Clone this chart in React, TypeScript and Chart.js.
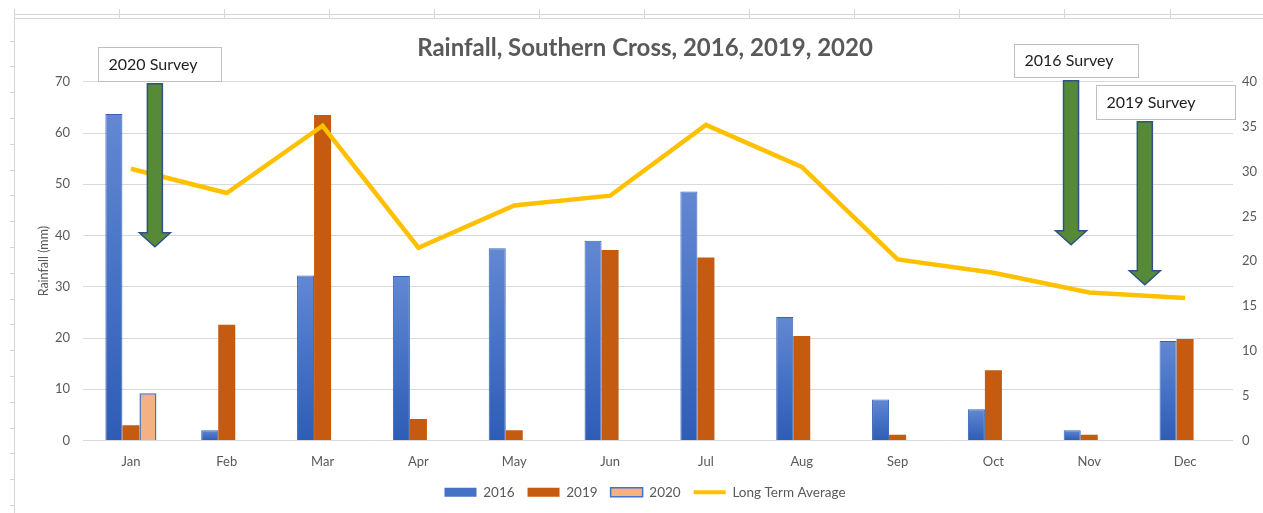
import React, { useEffect, useRef } from 'react';
import { Chart, registerables } from 'chart.js';

Chart.register(...registerables);

// ---- data ----
const months = ['Jan', 'Feb', 'Mar', 'Apr', 'May', 'Jun', 'Jul', 'Aug', 'Sep', 'Oct', 'Nov', 'Dec'];
const rain2016 = [63.7, 2.0, 32.2, 32.1, 37.5, 39.0, 48.6, 24.1, 8.0, 6.1, 2.0, 19.4];
const rain2019 = [3.0, 22.6, 63.5, 4.2, 2.0, 37.2, 35.7, 20.4, 1.1, 13.7, 1.1, 19.8];
const rain2020 = [9.2, null, null, null, null, null, null, null, null, null, null, null];
const longTermAverage = [30.3, 27.6, 35.1, 21.5, 26.2, 27.3, 35.2, 30.5, 20.2, 18.7, 16.5, 15.9];
const leftTicks = [0, 10, 20, 30, 40, 50, 60, 70];
const rightTicks = [0, 5, 10, 15, 20, 25, 30, 35, 40];

// survey annotations (category position, left-axis mm values)
const surveyLabels = ['2020 Survey', '2016 Survey', '2019 Survey'];
const surveyMonthPos = [0.25, 9.81, 10.58];
const surveyArrowTop = [69.6, 70.2, 62.2];
const surveyArrowTip = [37.8, 38.2, 30.4];

// box layout relative to arrow top/centre (px)
const boxLayout = [
  { dx: -57, w: 123, dy: -37, h: 34 },
  { dx: -57.5, w: 124, dy: -37, h: 33 },
  { dx: -49, w: 139, dy: -37, h: 34 },
];

const FONT = 'Lato, "Open Sans", sans-serif';
const GREY = '#595959';

const frameColor = '#d6d6d6';

const framePlugin = {
  id: 'sheetFrame',
  beforeDraw(chart: any) {
    const c = chart.ctx as CanvasRenderingContext2D;
    c.save();
    c.fillStyle = '#ffffff';
    c.fillRect(0, 0, chart.width, chart.height);
    c.strokeStyle = frameColor;
    c.lineWidth = 1;
    const line = (x1: number, y1: number, x2: number, y2: number) => {
      c.beginPath();
      c.moveTo(x1, y1);
      c.lineTo(x2, y2);
      c.stroke();
    };
    line(14, 14.5, chart.width, 14.5);
    line(14, 18.5, chart.width, 18.5);
    for (let x = 118.5; x < chart.width; x += 105.1) line(Math.round(x) + 0.5, 9, Math.round(x) + 0.5, 19);
    line(14.5, 9, 14.5, chart.height);
    for (let y = 40.5; y < chart.height; y += 25.8) line(10, Math.round(y) + 0.5, 14, Math.round(y) + 0.5);
    c.restore();
  },
};

const surveyPlugin = {
  id: 'surveys',
  afterDraw(chart: any) {
    const c = chart.ctx as CanvasRenderingContext2D;
    const xs = chart.scales.x;
    const ys = chart.scales.y;
    c.save();
    surveyLabels.forEach((label, i) => {
      const cx = xs.getPixelForValue(surveyMonthPos[i]);
      const yTop = ys.getPixelForValue(surveyArrowTop[i]);
      const yTip = ys.getPixelForValue(surveyArrowTip[i]);
      const sw = 7.5, hw = 15.5, hh = 14;
      c.beginPath();
      c.moveTo(cx - sw, yTop);
      c.lineTo(cx + sw, yTop);
      c.lineTo(cx + sw, yTip - hh);
      c.lineTo(cx + hw, yTip - hh);
      c.lineTo(cx, yTip);
      c.lineTo(cx - hw, yTip - hh);
      c.lineTo(cx - sw, yTip - hh);
      c.closePath();
      c.fillStyle = '#568a38';
      c.fill();
      c.strokeStyle = '#2f5286';
      c.lineWidth = 1.5;
      c.stroke();

      const b = boxLayout[i];
      const bx = Math.round(cx + b.dx) + 0.5;
      const by = Math.round(yTop + b.dy) + 0.5;
      c.fillStyle = '#ffffff';
      c.fillRect(bx, by, b.w, b.h);
      c.strokeStyle = '#bfbfbf';
      c.lineWidth = 1;
      c.strokeRect(bx, by, b.w, b.h);
      c.fillStyle = '#1e1e1e';
      c.font = `16px ${FONT}`;
      c.textAlign = 'left';
      c.textBaseline = 'middle';
      c.fillText(label, bx + 10, by + b.h / 2);
    });
    c.restore();
  },
};

function blueGradient(ctx: any) {
  const chart = ctx.chart;
  const y = chart.scales && chart.scales.y;
  if (!chart.chartArea || !y || ctx.type !== 'data' || ctx.raw == null) return '#4472c4';
  const top = y.getPixelForValue(ctx.raw);
  const base = y.getPixelForValue(0);
  if (!isFinite(top) || !isFinite(base) || Math.abs(base - top) < 1) return '#4472c4';
  const g = chart.ctx.createLinearGradient(0, top, 0, base);
  g.addColorStop(0, '#6388d2');
  g.addColorStop(0.5, '#4672c6');
  g.addColorStop(1, '#2f5cb5');
  return g;
}

const legendFill = ['#4472c4', '#c55a11', '#f4b183', '#ffc000'];
const legendStroke = ['#4472c4', '#c55a11', '#4472c4', '#ffc000'];
const legendWidth = [0, 0, 1.5, 4];

export default function App() {
  const ref = useRef<HTMLCanvasElement>(null);
  useEffect(() => {
    document.body.style.margin = '0';
    const canvas = ref.current!;
    const chart = new Chart(canvas, {
      type: 'bar',
      data: {
        labels: months,
        datasets: [
          {
            label: '2016',
            data: rain2016,
            backgroundColor: blueGradient as any,
            borderColor: '#3764b4',
            borderWidth: 1,
            yAxisID: 'y',
            order: 1,
          },
          {
            label: '2019',
            data: rain2019,
            backgroundColor: '#c55a11',
            borderWidth: 0,
            yAxisID: 'y',
            order: 1,
          },
          {
            label: '2020',
            data: rain2020 as any,
            backgroundColor: '#f4b183',
            borderColor: '#4472c4',
            borderWidth: 1.5,
            yAxisID: 'y',
            order: 1,
          },
          {
            type: 'line' as any,
            label: 'Long Term Average',
            data: longTermAverage,
            borderColor: '#ffc000',
            backgroundColor: '#ffc000',
            borderWidth: 4.5,
            pointRadius: 0,
            tension: 0,
            yAxisID: 'y1',
            order: 0,
          } as any,
        ],
      },
      options: {
        responsive: false,
        animation: false,
        layout: { padding: { left: 0, right: 0, top: 0, bottom: 4 } },
        datasets: {
          bar: { barPercentage: 1, categoryPercentage: 0.533 },
        } as any,
        plugins: {
          title: {
            display: true,
            text: 'Rainfall, Southern Cross, 2016, 2019, 2020',
            color: GREY,
            font: { family: FONT, size: 24, weight: 'bold' },
            padding: { top: 34, bottom: 19 },
          },
          legend: {
            position: 'bottom',
            labels: {
              color: GREY,
              font: { family: FONT, size: 13.5 },
              usePointStyle: true,
              pointStyleWidth: 32,
              boxHeight: 9,
              padding: 13,
              generateLabels: (ch: any) => {
                const items = Chart.defaults.plugins.legend.labels.generateLabels(ch);
                items.sort((a: any, b: any) => a.datasetIndex - b.datasetIndex);
                return items.map((it: any) => ({
                  ...it,
                  fillStyle: legendFill[it.datasetIndex],
                  strokeStyle: legendStroke[it.datasetIndex],
                  lineWidth: legendWidth[it.datasetIndex],
                  pointStyle: it.datasetIndex === 3 ? 'line' : 'rect',
                  fontColor: GREY,
                }));
              },
            },
          },
          tooltip: { enabled: false },
        },
        scales: {
          x: {
            type: 'category',
            grid: { display: false },
            border: { display: false },
            ticks: { color: GREY, font: { family: FONT, size: 13 }, padding: 6, maxRotation: 0 },
            afterFit: (s: any) => { s.height = 32; },
          },
          y: {
            position: 'left',
            min: 0,
            max: 70,
            afterBuildTicks: (s: any) => { s.ticks = leftTicks.map((v) => ({ value: v })); },
            grid: { color: '#d9d9d9', drawTicks: false, lineWidth: 1 },
            border: { display: false },
            ticks: { color: GREY, font: { family: FONT, size: 13 }, padding: 13 },
            title: {
              display: true,
              text: 'Rainfall (mm)',
              color: GREY,
              font: { family: FONT, size: 12.5 },
              padding: { top: 36, bottom: 0 },
            },
            afterFit: (s: any) => { s.width = 83; },
          },
          y1: {
            position: 'right',
            min: 0,
            max: 40,
            afterBuildTicks: (s: any) => { s.ticks = rightTicks.map((v) => ({ value: v })); },
            grid: { display: false, drawTicks: false },
            border: { display: false },
            ticks: { color: GREY, font: { family: FONT, size: 13 }, padding: 9 },
            afterFit: (s: any) => { s.width = 1290 - 1233; },
          },
        },
      },
      plugins: [framePlugin, surveyPlugin],
    });
    return () => chart.destroy();
  }, []);

  return (
    <div style={{ width: 1263, height: 513, overflow: 'hidden', position: 'relative', background: '#ffffff' }}>
      <canvas ref={ref} width={1290} height={513} style={{ display: 'block' }} />
    </div>
  );
}
